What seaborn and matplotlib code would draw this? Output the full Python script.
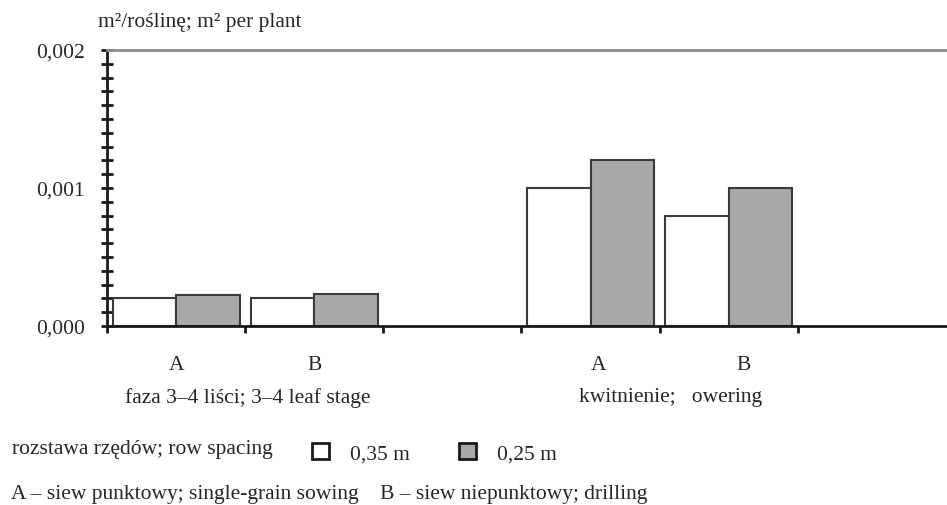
import matplotlib.pyplot as plt
import seaborn as sns
import pandas as pd
from matplotlib.ticker import MultipleLocator, FuncFormatter

# dane
stages = ["faza 3–4 liści; 3–4 leaf stage", "kwitnienie;   owering"]
sowing = ["A", "B"]
spacing = ["0,35 m", "0,25 m"]
val_035 = [0.00020, 0.00020, 0.00100, 0.00080]
val_025 = [0.000225, 0.000235, 0.00120, 0.00100]
slots = ["A1", "B1", "gap1", "A2", "B2", "gap2"]

rows = []
k = 0
for s in range(len(stages)):
    for sw in sowing:
        slot = sw + str(s + 1)
        rows.append({"slot": slot, "spacing": spacing[0], "value": val_035[k]})
        rows.append({"slot": slot, "spacing": spacing[1], "value": val_025[k]})
        k += 1
df = pd.DataFrame(rows)

sns.set_style("white")
plt.rcParams['font.family'] = ['Liberation Serif', 'DejaVu Serif']
fs = 15.5

fig = plt.figure(figsize=(9.47, 5.06), dpi=100)
ax = fig.add_axes([107/947, 1-327/506, 1-107/947, (327-51)/506])

sns.barplot(data=df, x="slot", y="value", hue="spacing", order=slots, hue_order=spacing,
            palette=["white", "#a8a9a8"], edgecolor="#3a3a3a", linewidth=1.5,
            width=0.92, errorbar=None, ax=ax)

ax.set_xlim(-0.5, 5.58)
ax.set_ylim(0, 0.002)
ax.set_xlabel("")
ax.set_ylabel("")

# osie
for sp in ["left", "bottom"]:
    ax.spines[sp].set_color("#1a1a1a")
    ax.spines[sp].set_linewidth(2)
ax.spines["top"].set_color("#8c8c8c")
ax.spines["top"].set_linewidth(2)
ax.spines["right"].set_visible(False)

ax.yaxis.set_major_locator(MultipleLocator(0.001))
ax.yaxis.set_minor_locator(MultipleLocator(0.0001))
ax.yaxis.set_major_formatter(FuncFormatter(lambda v, p: f"{v:.3f}".replace(".", ",")))
ax.tick_params(axis="y", which="both", left=True, direction="inout", length=8, width=2,
               color="#1a1a1a", labelsize=fs, pad=12)

ax.set_xticks([-0.5, 0.5, 1.5, 2.5, 3.5, 4.5])
ax.set_xticklabels([])
ax.set_xticks([0, 1, 3.06, 4.11], minor=True)
ax.set_xticklabels(sowing + sowing, minor=True)
ax.tick_params(axis="x", which="major", bottom=True, direction="out", length=5, width=2,
               color="#1a1a1a")
ax.tick_params(axis="x", which="minor", bottom=True, length=0, pad=21, labelsize=fs)

fig.text(98/947, 1-23/506, "m²/roślinę; m² per plant", ha="left", va="center", fontsize=fs)
fig.text(248/947, 1-398/506, stages[0], ha="center", va="center", fontsize=fs)
fig.text(671/947, 1-398/506, stages[1], ha="center", va="center", fontsize=fs)

# legenda
h, l = ax.get_legend_handles_labels()
ax.legend(h, l, loc="center left", bbox_to_anchor=(293/947, 1-454/506),
          bbox_transform=fig.transFigure, ncol=2, frameon=False,
          handlelength=0.75, handleheight=0.75, columnspacing=2.3, handletextpad=1.0,
          fontsize=fs)
for p in ax.get_legend().get_patches():
    p.set_edgecolor("#1a1a1a")
    p.set_linewidth(2)
fig.text(12/947, 1-450/506, "rozstawa rzędów; row spacing", ha="left", va="center", fontsize=fs)
fig.text(11/947, 1-495/506,
         "A – siew punktowy; single-grain sowing    B – siew niepunktowy; drilling",
         ha="left", va="center", fontsize=fs)

fig.savefig("out.png", dpi=100)
